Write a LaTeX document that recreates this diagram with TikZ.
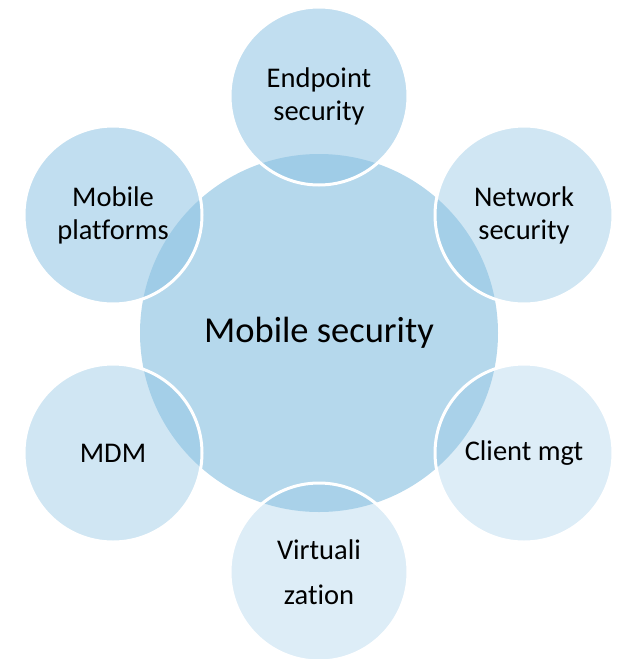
\documentclass[tikz,border=0pt]{standalone}
\usepackage{fontspec}
\setmainfont{Carlito}[Ligatures=NoCommon]
\definecolor{hubfill}{RGB}{181,216,236}
\definecolor{petalfill}{RGB}{142,195,227}
\tikzset{
  hub/.style={circle, fill=hubfill, minimum size=358pt, inner sep=0pt,
    font=\fontsize{36.5}{43}\selectfont},
  petal/.style={circle, fill=petalfill, draw=white, line width=3pt,
    minimum size=178pt, inner sep=0pt, align=center, text opacity=1,
    draw opacity=1, font=\fontsize{28.5}{33}\selectfont},
  strong/.style={fill opacity=0.55},
  medium/.style={fill opacity=0.42},
  light/.style={fill opacity=0.30},
}
\begin{document}
\begin{tikzpicture}[x=1pt,y=-1pt]
\useasboundingbox (0,0) rectangle (617,659);
% central topic
\node[hub] (hub) at (319,333) {Mobile security};
% surrounding topics, clockwise from the top
\node[petal, strong] (endpoint) at (319,96)  {Endpoint\\security};
\node[petal, medium] (network)  at (524,215) {Network\\security};
\node[petal, light]  (client)   at (524,453) {Client mgt};
\node[petal, light]  (virt)     at (319,572) {Virtuali\\[12pt]zation};
\node[petal, medium] (mdm)      at (113,453) {MDM};
\node[petal, strong] (platform) at (113,215) {Mobile\\platforms};
\end{tikzpicture}
\end{document}
